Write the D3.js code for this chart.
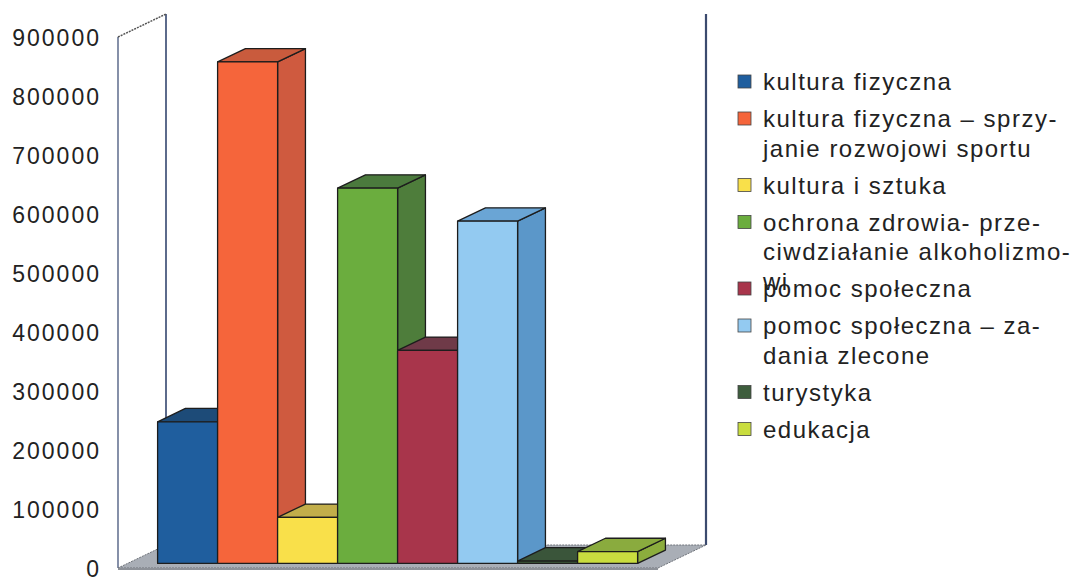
<!DOCTYPE html>
<html>
<head>
<meta charset="utf-8">
<script src="https://cdn.jsdelivr.net/npm/d3@7"></script>
<style>
  body { margin: 0; background: #fff; }
  svg { display: block; font-family: "Liberation Sans", Arial, sans-serif; }
</style>
</head>
<body>
<svg id="chart" width="1073" height="579"></svg>
<script>
// data
const categories = [
  "kultura fizyczna",
  "kultura fizyczna – sprzyjanie rozwojowi sportu",
  "kultura i sztuka",
  "ochrona zdrowia- przeciwdziałanie alkoholizmowi",
  "pomoc społeczna",
  "pomoc społeczna – zadania zlecone",
  "turystyka",
  "edukacja"
];
const values = [240000, 850000, 78000, 636000, 361000, 580000, 4000, 20000];
const tickValues = [0, 100000, 200000, 300000, 400000, 500000, 600000, 700000, 800000, 900000];
const legendLines = [
  ["kultura fizyczna"],
  ["kultura fizyczna – sprzy-", "janie rozwojowi sportu"],
  ["kultura i sztuka"],
  ["ochrona zdrowia- prze-", "ciwdziałanie alkoholizmo-", "wi"],
  ["pomoc społeczna"],
  ["pomoc społeczna – za-", "dania zlecone"],
  ["turystyka"],
  ["edukacja"]
];

// face colours: front, side, top
const frontCol = ["#1f5e9e", "#f5653b", "#f9e04a", "#6bad3e", "#a8354b", "#93caf1", "#3e5d3d", "#c9dd3f"];
const sideCol  = ["#1a4c80", "#cf5a3f", "#c8ad48", "#4e7d3b", "#7c3445", "#5b97c9", "#334a33", "#8cad3d"];
const topCol   = ["#1d4b78", "#c95b3d", "#c2ae4a", "#4b7a3d", "#6f3a48", "#6aa5d5", "#3a553a", "#8aab3e"];

const svg = d3.select("#chart");

const DX = 48, DY = 23;          // depth offset of the 3d box
const z0 = 0.2, z1 = 0.78;       // bar depth range

const y = d3.scaleLinear().domain([0, 900000]).range([568, 37]);
const x = d3.scaleBand().domain(categories).range([118, 658]).paddingOuter(0.5).paddingInner(0);

function P(px, v, z) { return [px + z * DX, y(v) - z * DY]; }
function poly(pts) { return "M" + pts.map(p => p.join(",")).join("L") + "Z"; }

// left wall
const x0 = 118, x1 = 658;
svg.append("path")
  .attr("d", poly([P(x0, 0, 0), P(x0, 0, 1), P(x0, 900000, 1), P(x0, 900000, 0)]))
  .attr("fill", "#fff").attr("stroke", "none");
svg.append("line")
  .attr("x1", P(x0, 0, 0)[0]).attr("y1", P(x0, 0, 0)[1])
  .attr("x2", P(x0, 900000, 0)[0]).attr("y2", P(x0, 900000, 0)[1])
  .attr("stroke", "#34466f").attr("stroke-width", 1.2);
svg.append("line")
  .attr("x1", P(x0, 0, 1)[0]).attr("y1", P(x0, 0, 1)[1])
  .attr("x2", P(x0, 900000, 1)[0]).attr("y2", P(x0, 900000, 1)[1])
  .attr("stroke", "#34466f").attr("stroke-width", 1.6);
svg.append("line")
  .attr("x1", P(x0, 900000, 0)[0]).attr("y1", P(x0, 900000, 0)[1])
  .attr("x2", P(x0, 900000, 1)[0]).attr("y2", P(x0, 900000, 1)[1])
  .attr("stroke", "#555").attr("stroke-width", 1.5).attr("stroke-dasharray", "2,1");
// right edge of back wall
svg.append("line")
  .attr("x1", P(x1, 0, 1)[0]).attr("y1", P(x1, 0, 1)[1])
  .attr("x2", P(x1, 900000, 1)[0]).attr("y2", P(x1, 900000, 1)[1])
  .attr("stroke", "#3b4a6e").attr("stroke-width", 2.2);

// floor
svg.append("path")
  .attr("d", poly([P(x0, 0, 0), P(x1, 0, 0), P(x1, 0, 1), P(x0, 0, 1)]))
  .attr("fill", "#a9aeb6").attr("stroke", "#6f737a").attr("stroke-width", 1)
  .attr("stroke-dasharray", "2,1");
svg.append("path")
  .attr("d", poly([P(x0, 0, 0), P(x1, 0, 0), [P(x1, 0, 0)[0], P(x1, 0, 0)[1] + 2], [P(x0, 0, 0)[0], P(x0, 0, 0)[1] + 2]]))
  .attr("fill", "#8d9198");

// bars, left to right so each front face covers the previous side
categories.forEach((c, i) => {
  const a = x(c), b = a + x.bandwidth(), v = values[i];
  const g = svg.append("g").attr("stroke", "#1d1d1d").attr("stroke-width", 1.3).attr("stroke-linejoin", "round");
  g.append("path").attr("d", poly([P(b, 0, z0), P(b, 0, z1), P(b, v, z1), P(b, v, z0)])).attr("fill", sideCol[i]);
  g.append("path").attr("d", poly([P(a, v, z0), P(b, v, z0), P(b, v, z1), P(a, v, z1)])).attr("fill", topCol[i]);
  g.append("path").attr("d", poly([P(a, 0, z0), P(b, 0, z0), P(b, v, z0), P(a, v, z0)])).attr("fill", frontCol[i]);
});

// value axis
const axis = d3.axisLeft(y).tickValues(tickValues).tickSize(0).tickPadding(0).tickFormat(d3.format("d"));
const ag = svg.append("g").attr("transform", "translate(101,1)").call(axis);
ag.select(".domain").remove();
ag.selectAll("text")
  .attr("font-size", 23).attr("fill", "#222")
  .attr("font-family", "'Liberation Sans', Arial, sans-serif")
  .style("letter-spacing", "2px");

// legend
const leg = svg.append("g").attr("transform", "translate(738,0)");
let base = 90;
legendLines.forEach((lines, i) => {
  const item = leg.append("g");
  item.append("rect")
    .attr("x", 0).attr("y", base - 15).attr("width", 13).attr("height", 13)
    .attr("fill", frontCol[i]).attr("stroke", "#444").attr("stroke-width", 0.8);
  lines.forEach((t, k) => {
    item.append("text")
      .attr("x", 25).attr("y", base + k * 29.5)
      .attr("font-size", 24).attr("fill", "#222")
      .style("letter-spacing", "1.5px")
      .text(t);
  });
  // the legend box only reserves two lines per item, the third one overflows
  base += 37 + 29.5 * (Math.min(lines.length, 2) - 1);
});
</script>
</body>
</html>
